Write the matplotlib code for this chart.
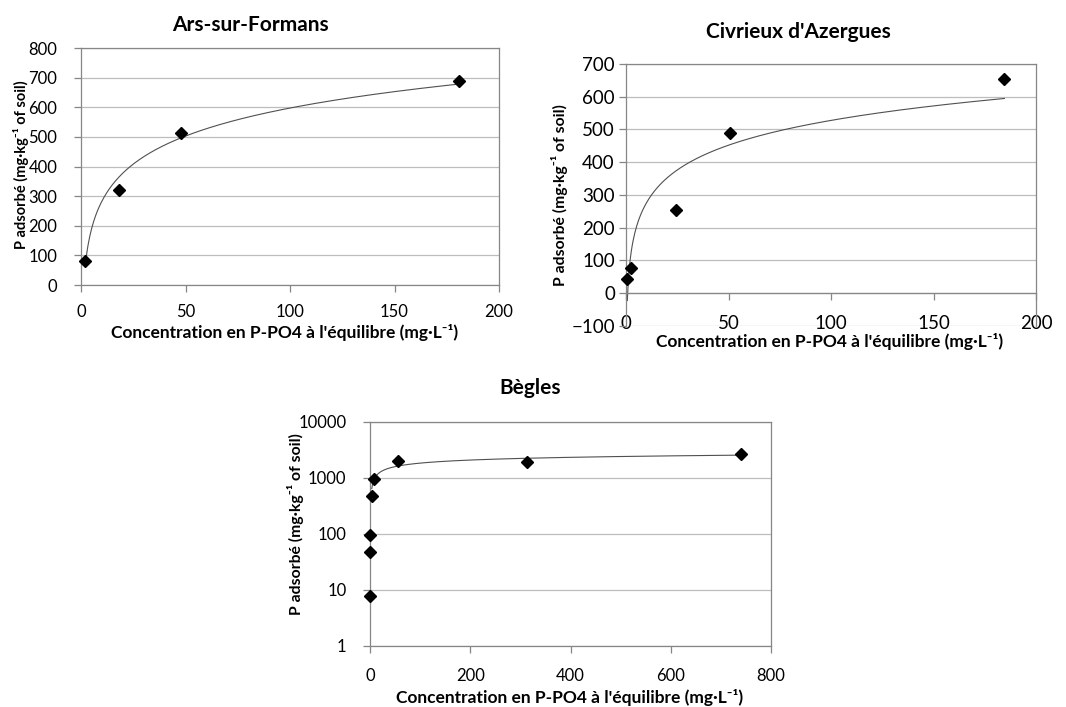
import numpy as np
import matplotlib
matplotlib.use("Agg")
import matplotlib.pyplot as plt
from matplotlib.ticker import FixedLocator, FixedFormatter, NullLocator

plt.rcParams['font.family'] = ['Lato', 'DejaVu Sans']

# isothermes d'adsorption : concentration à l'équilibre (mg/L) et P adsorbé (mg/kg)
ars_x = [2, 18, 48, 181]
ars_y = [80, 322, 512, 688]

civ_x = [0.65, 2.3, 24.6, 50.9, 184.6]
civ_y = [43, 77, 254, 489, 654]

beg_x = [0, 0, 0, 3.5, 7.3, 55, 313, 740]
beg_y = [7.7, 47.7, 97, 471, 960, 2013, 1905, 2648]

titles = ["Ars-sur-Formans", "Civrieux d'Azergues", "Bègles"]
xlabel = "Concentration en P-PO4 à l'équilibre (mg·L⁻¹)"
ylabel = "P adsorbé (mg·kg⁻¹ of soil)"

W, H = 1066, 707
fig = plt.figure(figsize=(W / 100, H / 100), dpi=100)

GRID = '#bdbdbd'
AXE = '#868686'


def px_axes(left, top, right, bottom):
    return fig.add_axes([left / W, 1 - bottom / H, (right - left) / W, (bottom - top) / H])


def style(ax, ypad, xpad, size):
    for s in ax.spines.values():
        s.set_color(AXE)
        s.set_linewidth(0.9)
    ax.grid(axis='y', color=GRID, lw=0.9)
    ax.set_axisbelow(True)
    ax.tick_params(axis='both', direction='out', length=5, width=0.9, color=AXE,
                   labelsize=size, labelcolor='black')
    ax.tick_params(axis='y', pad=ypad)
    ax.tick_params(axis='x', pad=xpad)


def log_trend(ax, x, y):
    # courbe de tendance logarithmique y = a ln(x) + b
    x = np.asarray(x, float)
    y = np.asarray(y, float)
    m = x > 0
    a, b = np.polyfit(np.log(x[m]), y[m], 1)
    xs = np.linspace(x[m].min(), x[m].max(), 400)
    ax.plot(xs, a * np.log(xs) + b, color='#505050', lw=0.8, zorder=2)


def points(ax, x, y):
    ax.plot(x, y, 'D', color='black', markersize=6.5, clip_on=False, zorder=3)


def labels(title, tpos, xpos, ypos, ysize):
    fig.text(tpos[0] / W, 1 - tpos[1] / H, title, ha='center', va='center',
             fontsize=15, fontweight='bold')
    fig.text(xpos[0] / W, 1 - xpos[1] / H, xlabel, ha='center', va='center',
             fontsize=12.5, fontweight='bold')
    fig.text(ypos[0] / W, 1 - ypos[1] / H, ylabel, ha='center', va='center',
             fontsize=ysize, fontweight='bold', rotation=90)


# --- Ars-sur-Formans
ax1 = px_axes(81, 48, 499, 285)
style(ax1, ypad=12, xpad=9, size=12)
log_trend(ax1, ars_x, ars_y)
points(ax1, ars_x, ars_y)
ax1.set_xlim(0, 200)
ax1.set_ylim(0, 800)
ax1.set_xticks([0, 50, 100, 150, 200])
ax1.set_yticks(range(0, 801, 100))
labels(titles[0], (250, 25), (285, 333), (21, 165), 10.5)

# --- Civrieux d'Azergues
ax2 = px_axes(626, 64, 1036, 326)
style(ax2, ypad=3, xpad=11, size=13.5)
log_trend(ax2, civ_x, civ_y)
points(ax2, civ_x, civ_y)
ax2.set_xlim(0, 200)
ax2.set_ylim(-100, 700)
ax2.spines['bottom'].set_position(('data', 0))
ax2.set_xticks([0, 50, 100, 150, 200])
ax2.set_yticks(range(-100, 701, 100))
labels(titles[1], (798, 32), (830, 341), (560, 195), 11.3)

# --- Bègles (échelle log)
ax3 = px_axes(370, 422, 771, 646)
style(ax3, ypad=12, xpad=11, size=12)
log_trend(ax3, beg_x, beg_y)
points(ax3, beg_x, beg_y)
ax3.set_yscale('log')
ax3.set_xlim(0, 800)
ax3.set_ylim(1, 10000)
ax3.set_xticks([0, 200, 400, 600, 800])
ax3.yaxis.set_major_locator(FixedLocator([1, 10, 100, 1000, 10000]))
ax3.yaxis.set_major_formatter(FixedFormatter(['1', '10', '100', '1000', '10000']))
ax3.yaxis.set_minor_locator(NullLocator())
labels(titles[2], (530, 388), (570, 698), (296, 524), 11.3)

fig.savefig("out.png", dpi=100, facecolor='white')
